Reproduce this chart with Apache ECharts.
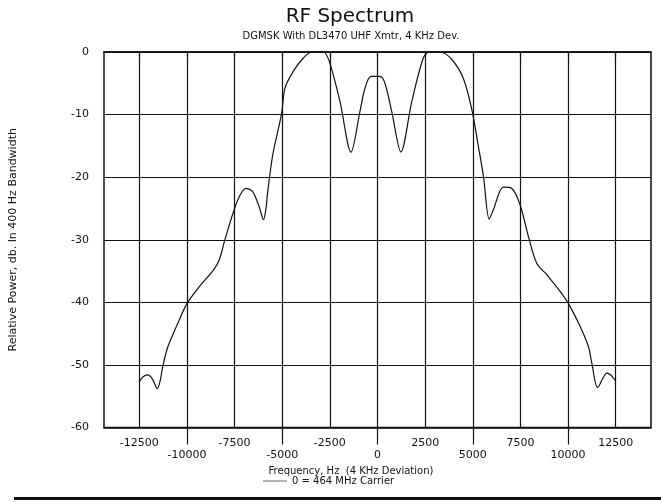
<!DOCTYPE html>
<html>
<head>
<meta charset="utf-8">
<title>RF Spectrum</title>
<script src="https://cdn.jsdelivr.net/npm/echarts@6/dist/echarts.min.js"></script>
<style>
  html, body { margin: 0; padding: 0; background: #fff; }
  #chart { width: 661px; height: 502px; }
</style>
</head>
<body>
<div id="chart"></div>
<script>
// Measured spectrum: offset from carrier (Hz) and relative power (dB in 400 Hz bandwidth)
const freqHz = [
  -12500, -12300, -12050, -11800, -11550, -11400, -11270, -11000, -10500, -10000,
  -9350, -8600, -8300, -8000, -7500, -7200, -6900, -6550, -6200, -5980,
  -5850, -5770, -5500, -5030, -4860, -4420, -3900, -3450, -2850, -2530,
  -1970, -1390, -920, -660, -340, 130, 390, 745, 1230, 1800,
  2400, 2720, 3280, 3900, 4500, 4950, 5300, 5560, 5860, 6080,
  6600, 7050, 7480, 7920, 8360, 8890, 9590, 10020, 10640, 11070,
  11250, 11550, 12040, 12300, 12510
];
const powerDb = [
  -52.7, -51.9, -51.6, -52.3, -53.8, -52.5, -50.3, -47.1, -43.5, -40.2,
  -37.5, -34.8, -33.2, -29.9, -25.0, -22.8, -21.8, -22.3, -24.8, -26.8,
  -25.0, -22.6, -16.5, -9.8, -5.8, -3.1, -1.0, 0, 0, -1.5,
  -7.9, -16.0, -9.5, -5.8, -3.9, -3.9, -5.0, -9.5, -16.0, -7.9,
  -1.0, 0, 0, -1.2, -4.2, -9.2, -15.2, -19.9, -26.7, -25.2,
  -21.6, -21.8, -24.4, -29.5, -33.8, -35.6, -38.3, -40.2, -43.9, -47.1,
  -49.8, -53.6, -51.3, -51.8, -52.7
];

// Axis ticks
const xTickValues = [-12500, -10000, -7500, -5000, -2500, 0, 2500, 5000, 7500, 10000, 12500];
const xLowerRowTicks = [-10000, -5000, 0, 5000, 10000];
const xRange = [-14350, 14350];
const yRange = [-60, 0];
const yStep = 10;

const seriesName = '0 = 464 MHz Carrier';
const spectrum = freqHz.map((f, i) => [f, powerDb[i]]);

const labelFont = 'DejaVu Sans, Liberation Sans, sans-serif';
const ink = '#111';
const chart = echarts.init(document.getElementById('chart'), null, { renderer: 'canvas' });

chart.setOption({
  animation: false,
  backgroundColor: '#fff',
  title: [
    {
      text: 'RF Spectrum',
      left: 345, top: 2, textAlign: 'center',
      textStyle: { fontFamily: labelFont, fontSize: 20, fontWeight: 'normal', color: ink }
    },
    {
      text: 'DGMSK With DL3470 UHF Xmtr, 4 KHz Dev.',
      left: 346, top: 26, textAlign: 'center',
      textStyle: { fontFamily: labelFont, fontSize: 10, fontWeight: 'normal', color: ink }
    }
  ],
  legend: {
    data: [seriesName],
    left: 258, top: 471,
    icon: 'rect', itemWidth: 24, itemHeight: 1.5,
    itemStyle: { color: '#999', borderWidth: 0 },
    textStyle: { fontFamily: labelFont, fontSize: 10, color: ink }
  },
  grid: {
    left: 104, right: 10, top: 52, bottom: 74.5,
    show: true, borderColor: ink, borderWidth: 1.5, backgroundColor: 'transparent'
  },
  xAxis: [
    {
      type: 'value',
      min: xRange[0], max: xRange[1],
      name: 'Frequency, Hz  (4 KHz Deviation)',
      nameLocation: 'middle', nameGap: 32,
      nameTextStyle: { fontFamily: labelFont, fontSize: 10, color: ink, padding: [0, 53, 0, 0] },
      axisLine: { show: true, lineStyle: { color: ink, width: 1.5 } },
      axisTick: { show: true, inside: false, customValues: xTickValues, length: 5, lineStyle: { color: ink, width: 1.2 } },
      axisLabel: {
        customValues: xTickValues,
        margin: 9,
        fontFamily: labelFont, fontSize: 11, lineHeight: 12.5, color: ink,
        formatter: v => (v % 5000 === 0 ? '\n' : '') + String(v)
      },
      splitLine: { show: true, lineStyle: { color: ink, width: 1.2 } }
    },
    {
      // longer ticks reaching down to the lower row of labels
      type: 'value',
      min: xRange[0], max: xRange[1],
      position: 'bottom',
      axisLine: { show: true, lineStyle: { color: ink, width: 1.5 } },
      axisTick: { show: true, inside: false, customValues: xLowerRowTicks, length: 17, lineStyle: { color: ink, width: 1.2 } },
      axisLabel: { show: true, customValues: xLowerRowTicks, color: 'rgba(0,0,0,0)', formatter: () => '' },
      splitLine: { show: false }
    }
  ],
  yAxis: {
    type: 'value',
    min: yRange[0], max: yRange[1], interval: yStep,
    name: 'Relative Power, db. In 400 Hz Bandwidth',
    nameLocation: 'middle', nameGap: 85,
    nameTextStyle: { fontFamily: labelFont, fontSize: 11, color: ink },
    axisLine: { show: false },
    axisTick: { show: false },
    axisLabel: { margin: 15, fontFamily: labelFont, fontSize: 11, color: ink, formatter: v => String(v) },
    splitLine: { show: true, lineStyle: { color: ink, width: 1.2 } }
  },
  series: [
    {
      name: seriesName,
      type: 'line',
      data: spectrum,
      smooth: 0.3,
      showSymbol: false,
      clip: true,
      lineStyle: { color: ink, width: 1.2 },
      itemStyle: { color: ink }
    }
  ],
  graphic: [
    {
      type: 'rect',
      shape: { x: 14, y: 497, width: 647, height: 3 },
      style: { fill: ink },
      silent: true
    }
  ]
});
</script>
</body>
</html>
